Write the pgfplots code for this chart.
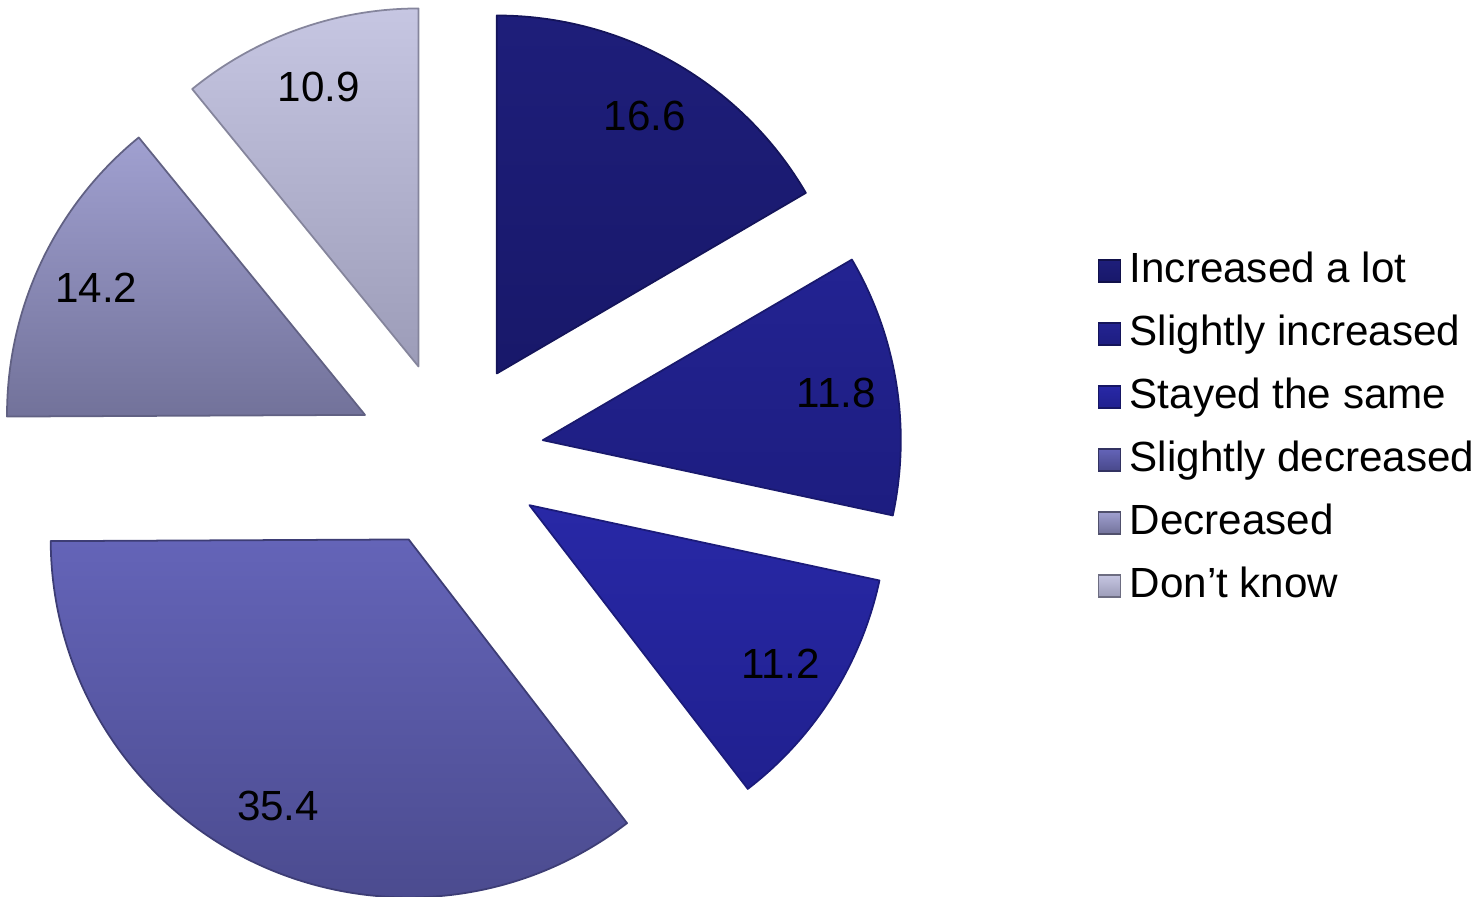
\documentclass[border=0pt]{standalone}
\usepackage{fontspec}
\setmainfont{Liberation Sans}
\usepackage{pgfplots}
\usepackage{pgfplotstable}
\pgfplotsset{compat=1.18}

\definecolor{c1t}{HTML}{1E1E7A}\definecolor{c1b}{HTML}{18186A}
\definecolor{c2t}{HTML}{232392}\definecolor{c2b}{HTML}{1D1D80}
\definecolor{c3t}{HTML}{2828A6}\definecolor{c3b}{HTML}{20208F}
\definecolor{c4t}{HTML}{6464B8}\definecolor{c4b}{HTML}{48488A}
\definecolor{c5t}{HTML}{A0A0D0}\definecolor{c5b}{HTML}{72729A}
\definecolor{c6t}{HTML}{C6C6E2}\definecolor{c6b}{HTML}{9C9CB8}

% share of answers, clockwise from 12 o'clock
\pgfplotstableread[col sep=comma]{
label,value,top,bottom
Increased a lot,16.6,c1t,c1b
Slightly increased,11.8,c2t,c2b
Stayed the same,11.2,c3t,c3b
Slightly decreased,35.4,c4t,c4b
Decreased,14.2,c5t,c5b
Don’t know,10.9,c6t,c6b
}\piedata

\def\R{3.58}      % radius (cm = axis units)
\def\explode{0.94}
\newcommand{\labelfont}{\fontsize{12}{14}\selectfont}

\begin{document}
\begin{tikzpicture}
\begin{axis}[
  x=1cm, y=1cm,
  xmin=-4.50, xmax=10.33, ymin=-4.41, ymax=4.55,
  hide axis, clip=false,
  legend image code/.code={\path[#1] (0cm,-0.11cm) rectangle (0.22cm,0.11cm);},
  legend style={draw=none, fill=none, at={(axis cs:6.47,0.265)}, anchor=west,
    font=\labelfont, inner sep=0pt, column sep=0.09cm,
    nodes={inner xsep=0pt, inner ysep=0.11cm, text height=0.32cm, text depth=0.09cm}},
  legend cell align=left,
]
\coordinate (bl) at (rel axis cs:0,0);
\coordinate (tr) at (rel axis cs:1,1);
\pgfmathsetmacro\total{0}
\pgfplotsforeachungrouped \i in {0,...,5}{%
  \pgfplotstablegetelem{\i}{value}\of\piedata
  \pgfmathsetmacro\total{\total+\pgfplotsretval}%
}
\def\angA{90}
\pgfplotsforeachungrouped \i in {0,...,5}{%
  \pgfplotstablegetelem{\i}{value}\of\piedata \let\val\pgfplotsretval
  \pgfplotstablegetelem{\i}{top}\of\piedata \let\ctop\pgfplotsretval
  \pgfplotstablegetelem{\i}{bottom}\of\piedata \let\cbot\pgfplotsretval
  \pgfplotstablegetelem{\i}{label}\of\piedata \let\lab\pgfplotsretval
  \pgfmathsetmacro\angB{\angA-360*\val/\total}%
  \pgfmathsetmacro\mid{(\angA+\angB)/2}%
  \pgfmathsetmacro\ox{\explode*cos(\mid)}%
  \pgfmathsetmacro\oy{\explode*sin(\mid)}%
  \pgfmathsetmacro\lx{\ox+0.83*\R*cos(\mid)}%
  \pgfmathsetmacro\ly{\oy+0.83*\R*sin(\mid)}%
  \edef\doslice{%
    \noexpand\path[top color=\ctop, bottom color=\cbot, draw=\cbot!85!black, line width=0.5pt, line join=round]
      (axis cs:\ox,\oy) -- ++(\angA:\R cm) arc[start angle=\angA, end angle=\angB, radius=\R cm] -- cycle;
    \noexpand\node[font=\noexpand\labelfont, text=black] at (axis cs:\lx,\ly) {\val};
    \noexpand\addlegendimage{top color=\ctop, bottom color=\cbot, draw=\cbot!70!black, line width=0.3pt}
    \noexpand\addlegendentry{\lab}
  }%
  \doslice
  \let\angA\angB
}
\end{axis}
\pgfresetboundingbox
\useasboundingbox (bl) rectangle (tr);
\end{tikzpicture}
\end{document}
